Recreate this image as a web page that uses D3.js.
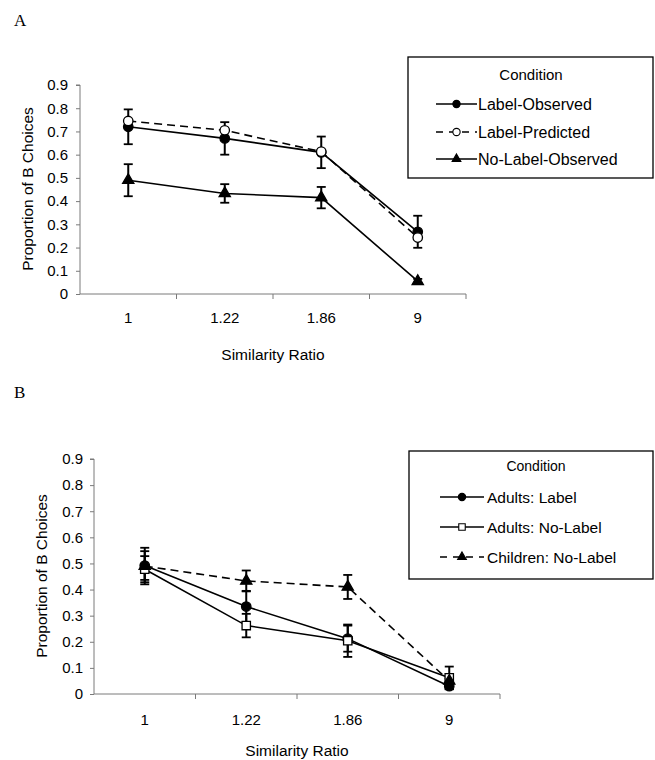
<!DOCTYPE html>
<html>
<head>
<meta charset="utf-8">
<script src="https://cdn.jsdelivr.net/npm/d3@7"></script>
<style>
  html, body { margin: 0; padding: 0; background: #fff; }
  svg text { font-family: "Liberation Sans", Arial, sans-serif; fill: #000; }
</style>
</head>
<body>
<svg id="chart" width="655" height="760"></svg>
<script>
// ---------- data ----------
const categories = ["1", "1.22", "1.86", "9"];
const yTicks = [0, 0.1, 0.2, 0.3, 0.4, 0.5, 0.6, 0.7, 0.8, 0.9];
const yTickLabels = ["0", "0.1", "0.2", "0.3", "0.4", "0.5", "0.6", "0.7", "0.8", "0.9"];

// Panel A
const seriesNamesA = ["Label-Observed", "Label-Predicted", "No-Label-Observed"];
const labelObserved = [0.72, 0.67, 0.61, 0.268];
const labelObservedErr = [0.075, 0.07, 0.068, 0.069];
const labelPredicted = [0.745, 0.705, 0.613, 0.243];
const labelPredictedErr = [0, 0, 0, 0];
const noLabelObserved = [0.49, 0.433, 0.415, 0.055];
const noLabelObservedErr = [0.069, 0.04, 0.046, 0.01];

// Panel B
const seriesNamesB = ["Adults: Label", "Adults: No-Label", "Children: No-Label"];
const adultsLabel = [0.492, 0.335, 0.212, 0.03];
const adultsLabelErr = [0.055, 0.06, 0.05, 0.012];
const adultsNoLabel = [0.478, 0.262, 0.204, 0.062];
const adultsNoLabelErr = [0.05, 0.045, 0.062, 0.043];
const childrenNoLabel = [0.49, 0.433, 0.41, 0.05];
const childrenNoLabelErr = [0.07, 0.04, 0.046, 0.01];

// ---------- drawing ----------
const svg = d3.select("#chart");
const AXIS_COLOR = "#7a7a7a";

function symbolPath(shape, size) {
  if (shape === "circle") return d3.symbol(d3.symbolCircle, size)();
  if (shape === "square") return d3.symbol(d3.symbolSquare, size)();
  return d3.symbol(d3.symbolTriangle, size)();
}

function drawPanel(cfg) {
  const g = svg.append("g");
  const x = d3.scaleBand().domain(categories).range([cfg.left, cfg.right]).padding(0);
  const y = d3.scaleLinear().domain([0, 0.9]).range([cfg.bottom, cfg.top]);
  const cx = c => x(c) + x.bandwidth() / 2;

  // y axis
  const yAxis = d3.axisLeft(y).tickValues(yTicks)
    .tickFormat((d, i) => yTickLabels[i]).tickSize(4).tickPadding(cfg.yLabelPad);
  const ya = g.append("g").attr("transform", `translate(${cfg.left},0)`).call(yAxis);
  ya.select(".domain").attr("stroke", AXIS_COLOR).attr("d", `M-4,${cfg.top}H0V${cfg.bottom}`);
  ya.selectAll(".tick line").attr("stroke", AXIS_COLOR);
  ya.selectAll(".tick text").style("font-size", "15px").attr("fill", "#000");

  // x axis: labels at centres, tick marks at band boundaries
  const xAxis = d3.axisBottom(x).tickSize(0).tickPadding(cfg.xLabelPad);
  const xa = g.append("g").attr("transform", `translate(0,${cfg.bottom})`).call(xAxis);
  xa.select(".domain").attr("stroke", AXIS_COLOR).attr("d", `M${cfg.left},0H${cfg.right}`);
  xa.selectAll(".tick text").style("font-size", "15px").attr("fill", "#000");
  const bounds = categories.slice(1).map(c => x(c)).concat([x.range()[1]]);
  xa.selectAll("line.sep").data(bounds).join("line").attr("class", "sep")
    .attr("x1", d => d).attr("x2", d => d).attr("y1", 0).attr("y2", 5)
    .attr("stroke", AXIS_COLOR);

  // axis titles
  g.append("text").attr("x", (cfg.left + cfg.right) / 2).attr("y", cfg.xTitleY)
    .attr("text-anchor", "middle").style("font-size", "15.5px").text("Similarity Ratio");
  g.append("text")
    .attr("transform", `translate(${cfg.yTitleX},${cfg.yTitleCY}) rotate(-90)`)
    .attr("text-anchor", "middle").style("font-size", "15.5px").text("Proportion of B Choices");

  // panel letter
  g.append("text").attr("x", 14).attr("y", cfg.letterY)
    .style("font-family", "'Liberation Serif', 'Times New Roman', serif")
    .style("font-size", "17px").text(cfg.letter);

  // series
  cfg.series.forEach(s => {
    const pts = categories.map((c, i) => ({ c, v: s.values[i], e: s.err[i] }));
    g.append("path").datum(pts)
      .attr("fill", "none").attr("stroke", "#000").attr("stroke-width", 1.6)
      .attr("stroke-dasharray", s.dashed ? "8,5" : null)
      .attr("d", d3.line().x(d => cx(d.c)).y(d => y(d.v)));
  });
  cfg.series.forEach(s => {
    const pts = categories.map((c, i) => ({ c, v: s.values[i], e: s.err[i] }));
    const eb = g.append("g");
    pts.filter(d => d.e > 0).forEach(d => {
      const X = cx(d.c), y1 = y(d.v + d.e), y2 = y(d.v - d.e);
      eb.append("line").attr("x1", X).attr("x2", X).attr("y1", y1).attr("y2", y2)
        .attr("stroke", "#000").attr("stroke-width", 2);
      [y1, y2].forEach(yy => eb.append("line").attr("x1", X - 4.5).attr("x2", X + 4.5)
        .attr("y1", yy).attr("y2", yy).attr("stroke", "#000").attr("stroke-width", 1.8));
    });
  });
  cfg.series.forEach(s => {
    const pts = categories.map((c, i) => ({ c, v: s.values[i] }));
    g.append("g").selectAll("path").data(pts).join("path")
      .attr("transform", d => `translate(${cx(d.c)},${y(d.v)})`)
      .attr("d", symbolPath(s.shape, s.size))
      .attr("fill", s.filled ? "#000" : "#fff")
      .attr("stroke", "#000").attr("stroke-width", 1.3);
  });

  // legend
  const L = cfg.legend;
  const lg = g.append("g");
  lg.append("rect").attr("x", L.x).attr("y", L.y).attr("width", L.w).attr("height", L.h)
    .attr("fill", "#fff").attr("stroke", "#000").attr("stroke-width", 1.3);
  lg.append("text").attr("x", L.titleX).attr("y", L.titleY).attr("text-anchor", "middle")
    .style("font-size", L.titleSize).text("Condition");
  cfg.series.forEach((s, i) => {
    const yy = L.rows[i];
    lg.append("line").attr("x1", L.lx1).attr("x2", L.lx2).attr("y1", yy).attr("y2", yy)
      .attr("stroke", "#000").attr("stroke-width", 1.4)
      .attr("stroke-dasharray", s.dashed ? "7,6" : null);
    lg.append("path").attr("transform", `translate(${(L.lx1 + L.lx2) / 2},${yy})`)
      .attr("d", symbolPath(s.shape, s.size * 0.6))
      .attr("fill", s.filled ? "#000" : "#fff").attr("stroke", "#000").attr("stroke-width", 1.1);
    lg.append("text").attr("x", L.tx).attr("y", yy).attr("dy", "0.36em")
      .style("font-size", L.textSize).text(s.name);
  });
}

drawPanel({
  letter: "A", letterY: 26,
  left: 80, right: 466, top: 85, bottom: 294,
  xLabelPad: 18, yLabelPad: 8, xTitleY: 360, yTitleX: 33, yTitleCY: 189,
  series: [
    { name: seriesNamesA[0], values: labelObserved, err: labelObservedErr, shape: "circle", filled: true, dashed: false, size: 70 },
    { name: seriesNamesA[1], values: labelPredicted, err: labelPredictedErr, shape: "circle", filled: false, dashed: true, size: 70 },
    { name: seriesNamesA[2], values: noLabelObserved, err: noLabelObservedErr, shape: "triangle", filled: true, dashed: false, size: 55 }
  ],
  legend: { x: 408, y: 57, w: 245, h: 121, titleX: 531, titleY: 80, titleSize: "15px",
            rows: [104, 132, 159], lx1: 436, lx2: 477, tx: 478, textSize: "16px" }
});

drawPanel({
  letter: "B", letterY: 398,
  left: 94, right: 500, top: 459, bottom: 694,
  xLabelPad: 20, yLabelPad: 7, xTitleY: 756, yTitleX: 47, yTitleCY: 576,
  series: [
    { name: seriesNamesB[0], values: adultsLabel, err: adultsLabelErr, shape: "circle", filled: true, dashed: false, size: 70 },
    { name: seriesNamesB[1], values: adultsNoLabel, err: adultsNoLabelErr, shape: "square", filled: false, dashed: false, size: 70 },
    { name: seriesNamesB[2], values: childrenNoLabel, err: childrenNoLabelErr, shape: "triangle", filled: true, dashed: true, size: 55 }
  ],
  legend: { x: 409, y: 451, w: 244, h: 128, titleX: 536, titleY: 471, titleSize: "14px",
            rows: [497, 527, 557], lx1: 440, lx2: 484, tx: 487, textSize: "15.5px" }
});
</script>
</body>
</html>
